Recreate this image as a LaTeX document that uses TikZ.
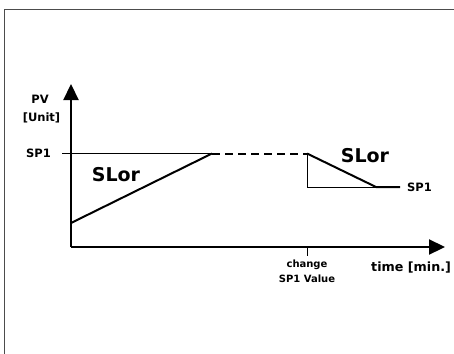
\documentclass[tikz,border=0pt]{standalone}
\usepackage{fontspec}
\setmainfont{DejaVu Sans}
\usetikzlibrary{arrows.meta, positioning}

\begin{document}
\begin{tikzpicture}[x=1pt,y=-1pt,
 axis/.style={line width=2.2pt,-{Triangle[length=16pt,width=15pt]}},
 ramp/.style={line width=2pt},
 guide/.style={line width=1pt},
 lbl/.style={font=\bfseries\fontsize{11.5}{14}\selectfont,inner sep=0pt},
 small lbl/.style={font=\bfseries\fontsize{10}{12}\selectfont,inner sep=0pt},
 big lbl/.style={font=\bfseries\fontsize{19}{23}\selectfont,inner sep=0pt}]

  \useasboundingbox (0,0) rectangle (454,353);
  \draw[line width=1.8pt,black!70] (4.5,360) |- (460,9.5);

  \coordinate (O) at (71,247);
  \coordinate (ytip) at (71,84);
  \coordinate (xtip) at (445,247);
  \coordinate (sp) at (62,153.5);
  \coordinate (s0) at (71,223);
  \coordinate (t1) at (212,153.5);
  \coordinate (t2) at (307,153.5);
  \coordinate (t3) at (376,187);
  \coordinate (t4) at (400,187);
  \coordinate (c) at (307,187);
  \coordinate (tick) at (307,256);

  % axes
  \draw[axis] (O) -- (ytip);
  \draw[axis] (O) -- (xtip);

  % set point and ramps
  \draw[guide] (sp) -- (t1);
  \draw[ramp] (s0) -- (t1);
  \draw[ramp,dash pattern=on 8pt off 5pt] (t1) -- (t2);
  \draw[ramp] (t2) -- (t3) -- (t4);
  \draw[guide] (t2) -- (c) -- (t3);
  \draw[guide] (307,247) -- (tick);

  \node[lbl] (pv) at (40,99) {PV};
  \node[lbl] (unit) at (41.5,118) {[Unit]};
  \node[lbl,left=11pt of sp] (sp1a) {SP1};
  \node[lbl,right=7pt of t4] (sp1b) {SP1};
  \node[big lbl] (slor1) at (116,175) {SLor};
  \node[big lbl] (slor2) at (365,156) {SLor};
  \node[small lbl,below=4pt of tick] (chg) {change};
  \node[small lbl,below=5pt of chg] (spv) {SP1 Value};
  \node[lbl,font=\bfseries\fontsize{12.7}{15}\selectfont,anchor=west] (time) at (371,268) {time [min.]};

\end{tikzpicture}
\end{document}
